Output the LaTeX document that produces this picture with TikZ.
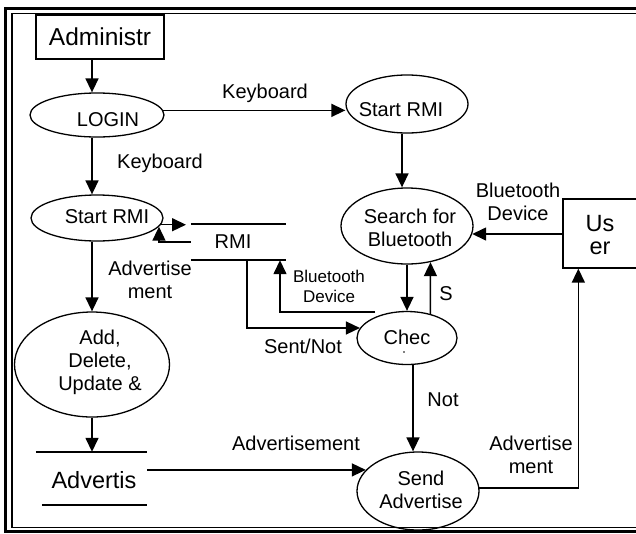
\documentclass[tikz,border=0pt]{standalone}
\usepackage{fontspec}
\setmainfont{Liberation Sans}
\usetikzlibrary{shapes.geometric,arrows.meta,calc}

\tikzset{
  flow/.style={line width=1.5pt},
  arr/.style={line width=1.5pt, -{Triangle[length=14pt,width=13pt]}},
  proc/.style={ellipse, draw, line width=1.3pt, inner sep=0pt},
  ext/.style={rectangle, draw, line width=1.3pt, inner sep=0pt},
  store/.style={rectangle, inner sep=0pt},
  txt/.style={font=\fontsize{20}{23}\selectfont, align=center, inner sep=0pt},
  bigtxt/.style={font=\fontsize{23.5}{23.5}\selectfont, align=center, inner sep=0pt},
  smalltxt/.style={font=\fontsize{17}{20}\selectfont, align=center, inner sep=0pt}
}

\begin{document}
\begin{tikzpicture}[x=1pt,y=-1pt]
\useasboundingbox (0,0) rectangle (636,533);
\clip (0,0) rectangle (636,533);

% double frame
\draw[line width=3pt] (5,8) rectangle (700,531);
\draw[line width=1.5pt] (12,13.5) rectangle (690,527.5);

% external entities
\node[ext, minimum width=128pt, minimum height=44pt,
      font=\fontsize{24.5}{26}\selectfont] (admin) at (100,37) {Administr};
\node[ext, minimum width=78pt, minimum height=69pt] (user) at (602,233.5) {};
\node[bigtxt] (usert) at (600,235) {Us\\er};

% processes
\node[proc, minimum width=134pt, minimum height=44pt] (login) at (97,115) {};
\node[txt] (logint) at (108,120) {LOGIN};
\node[proc, minimum width=122pt, minimum height=58pt] (srmiR) at (407,104) {};
\node[txt] (srmiRt) at (401,110) {Start RMI};
\node[proc, minimum width=132pt, minimum height=46pt] (srmiL) at (97,218) {};
\node[txt] (srmiLt) at (107,217) {Start RMI};
\node[proc, minimum width=132pt, minimum height=76pt] (search) at (407,226) {};
\node[txt] (searcht) at (410,228) {Search for\\Bluetooth};
\node[proc, minimum width=100pt, minimum height=53pt] (chec) at (407,338) {};
\node[txt] (chect) at (407,337) {Chec};
\fill (404,352) circle (0.9pt);
\node[proc, minimum width=155pt, minimum height=105pt] (add) at (92,364.5) {};
\node[txt] (addt) at (100,362) {Add,\\Delete,\\Update \&};
\node[proc, minimum width=122pt, minimum height=78pt] (send) at (418,491) {};
\node[txt] (sendt) at (421,490) {Send\\Advertise};

% data stores
\node[store, minimum width=95pt, minimum height=36pt] (rmi) at (238.5,242) {};
\node[txt] (rmit) at (233,242) {RMI};
\draw[flow] (rmi.north west) -- (rmi.north east);
\draw[flow] (rmi.south west) -- (rmi.south east);
\node[store, minimum width=111pt, minimum height=53pt] (advs) at (91.5,478.5) {};
\node[bigtxt] (advst) at (94,480) {Advertis};
\draw[flow] (advs.north west) -- (advs.north east);
\draw[flow] ($(advs.south west)+(6,0)$) -- (advs.south east);

% helper columns and free ends
\coordinate (colL) at (92,0);
\coordinate (colR) at (402,0);
\coordinate (colN) at (413,0);
\coordinate (rmiin) at (186,224);
\coordinate (btend) at (375,312);

% data flows
\draw[arr] (admin.south -| colL) -- (login.north -| colL);
\draw[arr] (login.south -| colL) -- (srmiL.north -| colL);
\draw[arr] (srmiL.south -| colL) -- (add.north -| colL);
\draw[arr] (add.south -| colL) -- (advs.north -| colL);
\draw[arr] (login.4) -- (srmiR.west |- login.4);
\draw[arr] (srmiR.south -| colR) -- (search.north -| colR);
\draw[arr] (user.west |- search.-7) -- (search.-7);
\draw[arr] (search.south) -- (chec.north);
\draw[arr] (chec.46) -- (search.-57);
\draw[arr] (srmiL.-6) -- (srmiL.-6 -| rmiin);
\draw[arr] (rmi.west) -| (srmiL.-8);
\draw[arr] (rmi.south -| 247,0) |- (chec.168);
\draw[arr] (btend) -| (rmi.south -| 280,0);
\draw[arr] (chec.south -| colN) -- (send.north -| colN);
\draw[arr] (advs.east |- send.158) -- (send.158);
\draw[arr] (send.3) -| ($(user.south west)+(16,0)$);

% flow labels
\node[txt] (kb1) at (265,93) {Keyboard};
\node[txt] (kb2) at (160,163) {Keyboard};
\node[txt] (bt1) at (518,202) {Bluetooth\\Device};
\node[txt] (ad1) at (150,280) {Advertise\\ment};
\node[smalltxt] (bt2) at (329,286) {Bluetooth\\Device};
\node[txt] (sn) at (303,346) {Sent/Not};
\node[txt] (sl) at (446,294) {S};
\node[txt] (nt) at (443,400) {Not};
\node[txt] (ad2) at (296,443) {Advertisement};
\node[txt] (ad3) at (531,455) {Advertise\\ment};
\end{tikzpicture}
\end{document}
